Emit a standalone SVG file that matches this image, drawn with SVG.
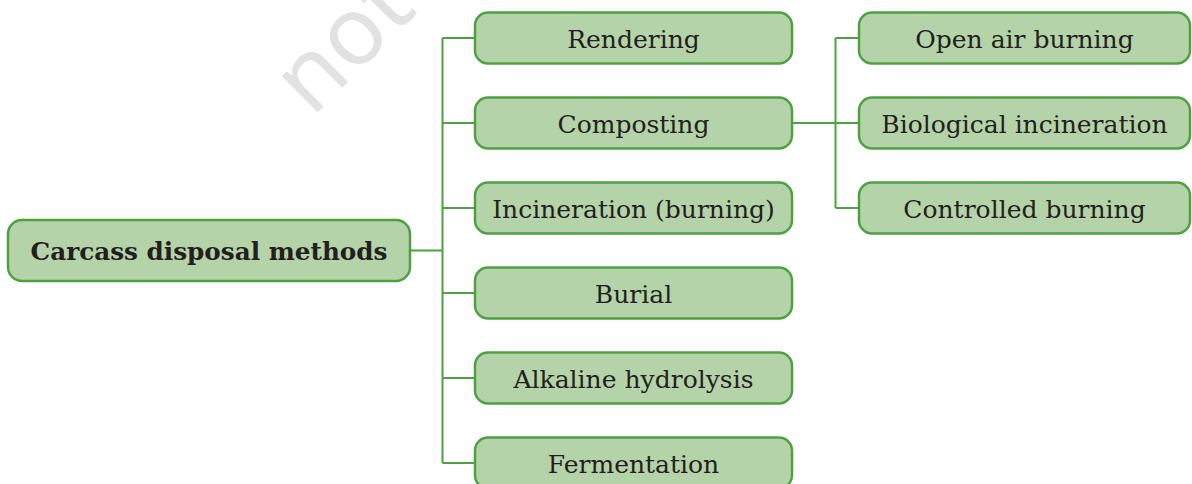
<svg xmlns="http://www.w3.org/2000/svg" width="1192" height="484" viewBox="0 0 1192 484">
<style>
.box{fill:#b5d3a8;stroke:#4fa042;stroke-width:2.5}
.lbl{font-family:"DejaVu Serif","Liberation Serif",serif;font-size:25px;fill:#231f20;text-anchor:middle}
.root{font-weight:bold;font-size:24.7px}
.conn{fill:none;stroke:#4fa042;stroke-width:2}
.wm{font-family:"Noto Sans",sans-serif;font-size:95px;fill:#e2e2e2}
</style>
<rect width="1192" height="484" fill="#fff"/>
<text class="wm" x="312" y="118" transform="rotate(-45 312 118)">not</text>
<g id="connectors">
<path class="conn" d="M410 250.5H442.5M442.5 38V463M442.5 38H475M442.5 123H475M442.5 208H475M442.5 293H475M442.5 378H475M442.5 463H475"/>
<path class="conn" d="M792 123H859M835.5 38V208M835.5 38H859M835.5 208H859"/>
</g>
<g id="root"><rect class="box" x="8" y="220" width="402" height="61" rx="14"/><text class="lbl root" x="209" y="260">Carcass disposal methods</text></g>
<g id="rendering"><rect class="box" x="475" y="12.5" width="317" height="51" rx="13"/><text class="lbl" x="633.5" y="47.5">Rendering</text></g>
<g id="composting"><rect class="box" x="475" y="97.5" width="317" height="51" rx="13"/><text class="lbl" x="633.5" y="132.5">Composting</text></g>
<g id="incineration"><rect class="box" x="475" y="182.5" width="317" height="51" rx="13"/><text class="lbl" x="633.5" y="217.5">Incineration (burning)</text></g>
<g id="burial"><rect class="box" x="475" y="267.5" width="317" height="51" rx="13"/><text class="lbl" x="633.5" y="302.5">Burial</text></g>
<g id="alkaline"><rect class="box" x="475" y="352.5" width="317" height="51" rx="13"/><text class="lbl" x="633.5" y="387.5">Alkaline hydrolysis</text></g>
<g id="fermentation"><rect class="box" x="475" y="437.5" width="317" height="51" rx="13"/><text class="lbl" x="633.5" y="472.5">Fermentation</text></g>
<g id="openair"><rect class="box" x="859" y="12.5" width="331" height="51" rx="13"/><text class="lbl" x="1024.5" y="47.5">Open air burning</text></g>
<g id="biological"><rect class="box" x="859" y="97.5" width="331" height="51" rx="13"/><text class="lbl" x="1024.5" y="132.5">Biological incineration</text></g>
<g id="controlled"><rect class="box" x="859" y="182.5" width="331" height="51" rx="13"/><text class="lbl" x="1024.5" y="217.5">Controlled burning</text></g>
</svg>
